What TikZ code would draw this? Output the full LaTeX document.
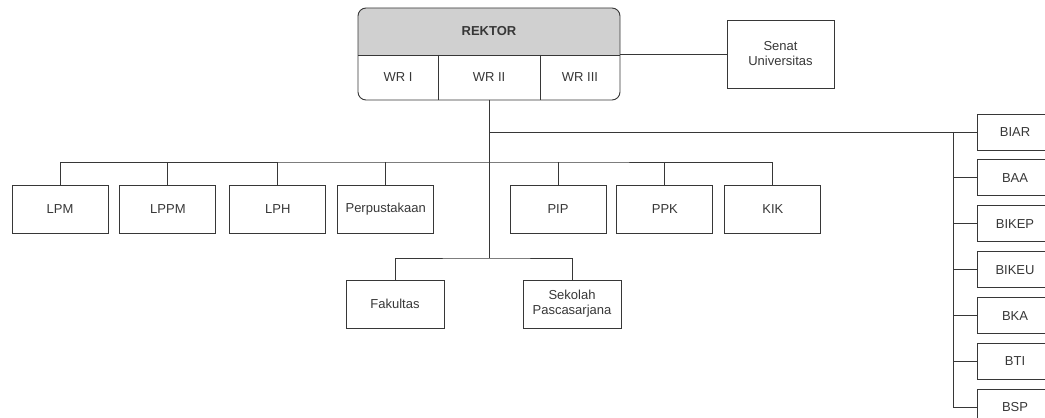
\documentclass[tikz,border=0pt]{standalone}
\usepackage{fontspec}
\setmainfont{Liberation Sans}
\usetikzlibrary{positioning,backgrounds}
\definecolor{linegray}{RGB}{55,55,55}
\definecolor{headgray}{RGB}{208,208,208}

\begin{document}
\begin{tikzpicture}[
    x=1pt, y=1pt,
    node distance=11pt,
    color=linegray, line width=0.9pt,
    every node/.style={font=\fontsize{13}{15}\selectfont},
    unitnode/.style={rectangle, draw=linegray, minimum width=96pt, minimum height=48pt, inner sep=2pt, align=center},
    bironode/.style={rectangle, draw=linegray, minimum width=76pt, minimum height=36pt, inner sep=2pt, align=center},
    headnode/.style={rectangle, minimum width=262pt, minimum height=47pt, inner sep=0pt, outer sep=0pt, font=\fontsize{13}{15}\selectfont\bfseries},
    cellnode/.style={rectangle, minimum height=45pt, inner sep=0pt, outer sep=0pt}
]
    \useasboundingbox (0,0) rectangle (1045,418);
    \clip (0,0) rectangle (1045,418);

    \node (rektor) [headnode] at (489,386.5) {REKTOR};
    \node (wr1) [cellnode, minimum width=80pt, below right=0pt and 0pt of rektor.south west] {WR I};
    \node (wr2) [cellnode, minimum width=102pt, right=0pt of wr1] {WR II};
    \node (wr3) [cellnode, minimum width=80pt, right=0pt of wr2] {WR III};
    \node (senat) [unitnode, minimum width=107pt, minimum height=68pt] at (780.5,364) {Senat\\Universitas};

    \node (lpm) [unitnode] at (60,209) {LPM};
    \node (lppm) [unitnode, right=of lpm] {LPPM};
    \node (lph) [unitnode, right=13pt of lppm] {LPH};
    \node (perpus) [unitnode, right=of lph] {Perpustakaan};
    \node (pip) [unitnode] at (558,209) {PIP};
    \node (ppk) [unitnode, right=10pt of pip] {PPK};
    \node (kik) [unitnode, right=of ppk] {KIK};

    \node (fakultas) [unitnode, minimum width=98pt] at (395,114) {Fakultas};
    \node (sps) [unitnode, minimum width=98pt] at (572,114) {Sekolah\\Pascasarjana};

    \node (biar) [bironode] at (1015,286) {BIAR};
    \node (baa) [bironode, below=9pt of biar] {BAA};
    \node (bikep) [bironode, below=9pt of baa] {BIKEP};
    \node (bikeu) [bironode, below=9pt of bikep] {BIKEU};
    \node (bka) [bironode, below=9pt of bikeu] {BKA};
    \node (bti) [bironode, below=9pt of bka] {BTI};
    \node (bsp) [bironode, below=9pt of bti] {BSP};

    \begin{scope}[on background layer]
        \fill[headgray] (rektor.south west) {[rounded corners=8pt] -- (rektor.north west) -- (rektor.north east)} -- (rektor.south east) -- cycle;
    \end{scope}
    \draw[rounded corners=8pt] (rektor.north west) rectangle (wr3.south east);
    \draw (rektor.south west) -- (rektor.south east);
    \draw (wr1.north east) -- (wr1.south east);
    \draw (wr2.north east) -- (wr2.south east);

    \coordinate (midbar) at (489,256);
    \coordinate (lowbar) at (489,160);
    \coordinate (rbus) at (953,0);

    \draw (senat.west) -- (senat.west -| wr3.east);
    \draw (wr2.south) -- (lowbar);
    \draw (lpm.north) |- (midbar) -| (kik.north);
    \foreach \n in {lppm,lph,perpus,pip,ppk} \draw (\n.north) -- (\n.north |- midbar);
    \draw (fakultas.north) |- (lowbar) -| (sps.north);
    \draw (wr2.south |- biar.west) -- (biar.west);
    \draw (rbus |- biar.west) |- (bsp.west);
    \foreach \n in {baa,bikep,bikeu,bka,bti} \draw (\n.west) -- (\n.west -| rbus);

\end{tikzpicture}
\end{document}
